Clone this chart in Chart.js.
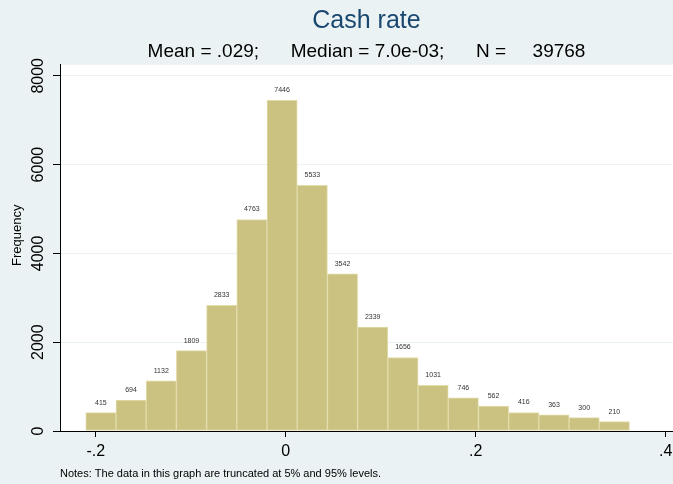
<!DOCTYPE html>
<html>
<head>
<meta charset="utf-8">
<script src="https://cdn.jsdelivr.net/npm/chart.js@4.4.0/dist/chart.umd.min.js"></script>
<style>
  body { margin: 0; background: #eaf2f3; }
</style>
</head>
<body>
<canvas id="chart" width="673" height="484"></canvas>
<script>
// histogram bins (centres) and frequencies
const binMids = [-0.1946, -0.1628, -0.1310, -0.0992, -0.0674, -0.0356, -0.0038, 0.0280, 0.0598,
                 0.0916, 0.1234, 0.1552, 0.1870, 0.2188, 0.2506, 0.2824, 0.3142, 0.3460];
const counts = [415, 694, 1132, 1809, 2833, 4763, 7446, 5533, 3542,
                2339, 1656, 1031, 746, 562, 416, 363, 300, 210];
const xTicks = [-0.2, 0, 0.2, 0.4];
const xTickLabels = ['-.2', '0', '.2', '.4'];
const yTicks = [0, 2000, 4000, 6000, 8000];
const yTickLabels = ['0', '2000', '4000', '6000', '8000'];

const FONT = "'Liberation Sans', Arial, sans-serif";
Chart.defaults.font.family = FONT;

// light outer background + white plot region
const plotBg = {
  id: 'plotBg',
  beforeDraw(chart) {
    const { ctx, chartArea: a } = chart;
    ctx.save();
    ctx.fillStyle = '#eaf2f3';
    ctx.fillRect(0, 0, chart.width, chart.height);
    ctx.fillStyle = '#ffffff';
    ctx.fillRect(a.left, a.top, a.right - a.left, a.bottom - a.top);
    ctx.restore();
  }
};

// small count labels above each bar
const barLabels = {
  id: 'barLabels',
  afterDatasetsDraw(chart) {
    const { ctx } = chart;
    const meta = chart.getDatasetMeta(0);
    ctx.save();
    ctx.font = '7px ' + FONT;
    ctx.fillStyle = '#333333';
    ctx.textAlign = 'center';
    ctx.textBaseline = 'middle';
    meta.data.forEach((bar, i) => ctx.fillText(counts[i], bar.x, bar.y - 10));
    ctx.restore();
  }
};

new Chart(document.getElementById('chart'), {
  type: 'bar',
  data: {
    datasets: [{
      data: binMids.map((x, i) => ({ x: x, y: counts[i] })),
      backgroundColor: '#cbc282',
      borderColor: '#e2dcaa',
      borderWidth: 1,
      borderSkipped: false,
      barPercentage: 1,
      categoryPercentage: 1
    }]
  },
  options: {
    responsive: false,
    animation: false,
    layout: { padding: 0 },
    plugins: {
      legend: { display: false },
      tooltip: { enabled: false },
      title: {
        display: true, text: 'Cash rate', fullSize: false, color: '#1a476f',
        font: { size: 25, weight: 'normal' }, padding: { top: 6, bottom: 0 }
      },
      subtitle: {
        display: true, text: 'Mean = .029;      Median = 7.0e-03;      N =     39768',
        fullSize: false, color: '#000000',
        font: { size: 19 }, padding: { top: 4, bottom: 2 }
      }
    },
    scales: {
      x: {
        type: 'linear', min: -0.2376, max: 0.4077, offset: false,
        afterBuildTicks: s => { s.ticks = xTicks.map(v => ({ value: v })); },
        afterFit: s => { s.height = 53; s.paddingLeft = 0; s.paddingRight = 0; },
        ticks: {
          callback: v => xTickLabels[xTicks.indexOf(v)],
          font: { size: 16 }, color: '#000000', padding: 5, maxRotation: 0, autoSkip: false
        },
        grid: { drawOnChartArea: false, offset: false, tickLength: 6, tickColor: '#000000' },
        border: { color: '#000000', width: 1 },
        title: {
          display: true, align: 'start', color: '#000000',
          text: 'Notes: The data in this graph are truncated at 5% and 95% levels.',
          font: { size: 11 }, padding: { top: 0, bottom: 3 }
        }
      },
      y: {
        min: 0, max: 8248,
        afterBuildTicks: s => { s.ticks = yTicks.map(v => ({ value: v })); },
        afterFit: s => { s.width = 60; s.paddingTop = 0; s.paddingBottom = 0; },
        ticks: {
          callback: v => yTickLabels[yTicks.indexOf(v)],
          font: { size: 16 }, color: '#000000',
          minRotation: 90, maxRotation: 90, crossAlign: 'center', padding: -3
        },
        grid: { color: '#eaf2f3', tickColor: '#000000', tickLength: 7 },
        border: { color: '#000000', width: 1 },
        title: {
          // leading spaces lift the word a little above the axis centre, as in the original
          display: true, text: '       Frequency', color: '#000000',
          font: { size: 13 }, padding: { top: 10, bottom: 0 }
        }
      }
    }
  },
  plugins: [plotBg, barLabels]
});
</script>
</body>
</html>
